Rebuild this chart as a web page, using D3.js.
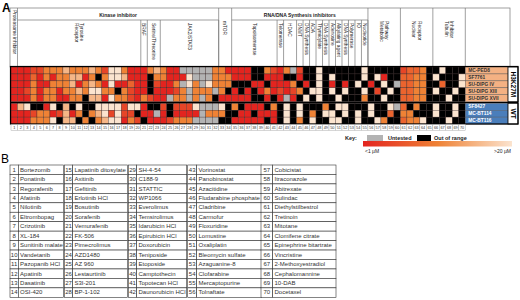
<!DOCTYPE html>
<html><head><meta charset="utf-8">
<script src="https://cdn.jsdelivr.net/npm/d3@7"></script>
<style>
body{margin:0;background:#fff;}
svg{display:block;font-family:"Liberation Sans",Arial,sans-serif;}
</style></head><body><div id="chart"></div>
<script>
const drugs = ["Bortezomib","Ponatinib","Regorafenib","Afatinib","Nilotinib","Eltrombopag","Crizotinib","XL-184","Sunitinib malate","Vandetanib","Pazopanib HCl","Apatinib","Dasatinib","OSI-420",
"Lapatinib ditosylate","Axitinib","Gefitinib","Erlotinib HCl","Bosutinib","Sorafenib","Vemurafenib","FK-506","Pimecrolimus","AZD1480","AZ 960","Lestaurtinib","S3I-201","BP-1-102",
"SH-4-54","C188-9","STATTIC","WP1066","Everolimus","Temsirolimus","Idarubicin HCl","Epirubicin HCl","Doxorubicin","Teniposide","Etoposide","Camptothecin","Topotecan HCl","Daunorubicin HCl",
"Vorinostat","Panobinostat","Azacitidine","Fludarabine phosphate","Cladribine","Carmofur","Floxuridine","Lomustine","Oxaliplatin","Bleomycin sulfate","Azaguanine-8","Clofarabine","Mercaptopurine","Tolnaftate",
"Cobicistat","Itraconazole","Abitrexate","Sulindac","Diethylstilbestrol","Tretinoin","Mitotane","Clomifene citrate","Epinephrine bitartrate","Vincristine","2-Methoxyestradiol","Cephalomannine","10-DAB","Docetaxel"];

const cellLines = ["MC-PED8","SF7761","SU-DIPG IV","SU-DIPG XIII","SU-DIPG XVII","SF8427","MC-BT114","MC-BT116"];
const groupNames = ["H3K27M","WT"];
const groupSizes = [5,3];

// one character per drug: 1 (<1 µM) .. 6 (>20 µM), g untested, k out of range
const levelUM = [null,1,1.7,2.8,4.5,10,20];
const response = [
"1112244454" + "4454266411" + "145411gggg" + "g441111kk4" + "214g2kk6kk" + "kkkk6kkkkk" + "2334kk6kkk",
"1113141445" + "514k466511" + "1k441116gg" + "g444111kk1" + "11kk1kk6k6" + "kkkk6k61kk" + "3344k6kkk6",
"1114114445" + "1454161131" + "1k2114g64g" + "6444kkk11k" + "1114k1k6k1" + "k1k6k1k6kg" + "3344kk3kk6",
"1124144144" + "546644k421" + "1k11124g44" + "4g4k1k1k14" + "12124k66k6" + "k6kk6k2k6k" + "3344k6kk6k",
"1114144114" + "4k55164421" + "4211g44g4g" + "4k11111kk1" + "k1g1k6k6kk" + "6kkk4kk6kk" + "3344kkk6kk",
"156kk16k5k" + "6kk6666266" + "1kk2k2226g" + "gg6k4k111k" + "4k6k6kkk4k" + "66kkk6kk6g" + "3k4kk6kk6k",
"1112441251" + "4k4562622k" + "11g1k1111g" + "444kk11k11" + "1k6k6k4k66" + "k6k6k6kk3k" + "44kkk6kk6k",
"1114446k55" + "k4k4566142" + "k1112444gg" + "ggkk11111k" + "1k6k4k6kk6" + "6kk6kk64kk" + "3446kkk6kk"
];

const topCats = ["Proteasome inhibitor","Kinase inhibitor","mTOR","RNA/DNA Synthesis inhibitors","Metabolic\nPathway","Nuclear\nReceptor","Tubulin\nInhibitor"];
const topStart = [1,2,33,35,56,61,66];
const topEnd   = [1,32,34,55,60,65,70];
const subCats  = ["Receptor\nTyrosine","BRAF","Serine/Threonine","JAK2/STAT3","Topoisomerase","Telomerase","HDAC","DNMT","DNA Synthesis","ADA","Thymidylate","DNA Synthesis","Adenosine","Alkylating agent","DNA Synthesis","Polymerase","IO","Nucleotide"];
const subStart = [2,21,22,24,35,42,43,45,46,47,48,49,50,51,52,53,54,55];
const subEnd   = [20,21,23,32,41,42,44,45,46,47,48,49,50,51,52,53,54,55];

const W = 520, H = 300;
const svg = d3.select("#chart").append("svg").attr("width",W).attr("height",H);

const x = d3.scaleBand().domain(d3.range(1,71)).range([11,465.3]);
const rowY = i => i < 5 ? 67 + i*6.94 : 103.3 + (i-5)*6.9;
const rowH = 6.94;

const color = d3.scaleLog().domain([1,4.5,20]).range(["#e3241f","#ef8235","#fbe4cf"]).clamp(true);
const fillOf = c => c === "g" ? "#b3b3b3" : c === "k" ? "#000" : color(levelUM[+c] || 8);

svg.append("text").attr("x",2).attr("y",12).attr("font-size",12).attr("font-weight","bold").text("A");
svg.append("text").attr("x",1).attr("y",163).attr("font-size",12).text("B");

// header
const hTop = 8, hMid = 20, hBot = 67;
const hdr = svg.append("g").attr("stroke","#777").attr("stroke-width",0.7).attr("fill","none");
hdr.append("rect").attr("x",10).attr("y",hTop).attr("width",500).attr("height",hBot-hTop);
topCats.forEach((name,i) => {
  const x0 = x(topStart[i]), x1 = x(topEnd[i]) + x.bandwidth();
  hdr.append("line").attr("x1",x1).attr("x2",x1).attr("y1",hTop).attr("y2",hBot);
  const hasSub = subStart.some(s => s >= topStart[i] && s <= topEnd[i]);
  if (hasSub) {
    hdr.append("line").attr("x1",x0).attr("x2",x1).attr("y1",hMid).attr("y2",hMid);
    svg.append("text").attr("x",(x0+x1)/2).attr("y",16.5).attr("text-anchor","middle")
      .attr("font-size",5).attr("font-weight","bold").attr("fill","#222").text(name);
  } else {
    vtext((x0+x1)/2, i === 0 ? 10 : 21, name);
  }
});
subCats.forEach((name,i) => {
  const x0 = x(subStart[i]), x1 = x(subEnd[i]) + x.bandwidth();
  hdr.append("line").attr("x1",x1).attr("x2",x1).attr("y1",hMid).attr("y2",hBot);
  vtext((x0+x1)/2, 23, name);
});
function vtext(cx, y0, name) {
  const lines = name.split("\n");
  const t = svg.append("text").attr("font-size",4.8).attr("fill","#222")
    .attr("transform",`translate(${cx},${y0}) rotate(90)`);
  lines.forEach((l,j) => t.append("tspan").attr("x",0)
    .attr("y",-((j - (lines.length-1)/2) * 5.5) + 1.7).text(l));
}

// cells
const cells = svg.append("g");
response.forEach((row,r) => {
  cells.selectAll(null).data(row.split("")).join("rect")
    .attr("x",(d,i) => x(i+1)).attr("y",rowY(r))
    .attr("width",x.bandwidth()).attr("height",rowH)
    .attr("fill",fillOf).attr("stroke","#3a2a2a").attr("stroke-width",0.35);
});
svg.append("line").attr("x1",10).attr("x2",518).attr("y1",102.5).attr("y2",102.5).attr("stroke","#000").attr("stroke-width",1.6);

// row labels
const labelX = 465.3, labelW = 42.7;
cellLines.forEach((name,r) => {
  const wt = r >= 5;
  svg.append("rect").attr("x",labelX).attr("y",rowY(r)).attr("width",labelW).attr("height",rowH)
    .attr("fill", wt ? "#4a7ebb" : "#f4b183").attr("stroke","#555").attr("stroke-width",0.4);
  svg.append("text").attr("x",labelX+3).attr("y",rowY(r)+rowH/2+1.7).attr("font-size",4.8)
    .attr("font-weight","bold").attr("fill", wt ? "#fff" : "#333").text(name);
});
let acc = 0;
groupNames.forEach((g,i) => {
  const y0 = rowY(acc), y1 = rowY(acc+groupSizes[i]-1) + rowH;
  svg.append("rect").attr("x",508).attr("y",y0).attr("width",10).attr("height",y1-y0)
    .attr("fill","#fff").attr("stroke","#000").attr("stroke-width",0.8);
  svg.append("text").attr("transform",`translate(511,${(y0+y1)/2}) rotate(90)`)
    .attr("text-anchor","middle").attr("font-size",6.5).attr("font-weight","bold").text(g);
  acc += groupSizes[i];
});
svg.append("rect").attr("x",10.5).attr("y",66.5).attr("width",507.5).attr("height",57.5)
  .attr("fill","none").attr("stroke","#000").attr("stroke-width",1.2);

// drug numbers
const nums = svg.append("g");
nums.selectAll("rect").data(drugs).join("rect")
  .attr("x",(d,i) => x(i+1)).attr("y",124.5).attr("width",x.bandwidth()).attr("height",6)
  .attr("fill","#fff").attr("stroke","#999").attr("stroke-width",0.4);
nums.selectAll("text").data(drugs).join("text")
  .attr("x",(d,i) => x(i+1)+x.bandwidth()/2).attr("y",129.3).attr("text-anchor","middle")
  .attr("font-size",3.8).attr("fill","#333").text((d,i) => i+1);

// key
const key = svg.append("g").attr("font-size",5.5).attr("fill","#222");
key.append("text").attr("x",345).attr("y",140).attr("font-weight","bold").text("Key:");
key.append("rect").attr("x",367).attr("y",135).attr("width",16).attr("height",6).attr("fill","#b3b3b3");
key.append("text").attr("x",388).attr("y",140).attr("font-weight","bold").text("Untested");
key.append("rect").attr("x",417).attr("y",135).attr("width",14).attr("height",6).attr("fill","#000");
key.append("text").attr("x",434).attr("y",140).attr("font-weight","bold").text("Out of range");
const grad = svg.append("defs").append("linearGradient").attr("id","g1");
d3.range(0,1.01,0.1).forEach(t => grad.append("stop").attr("offset",t)
  .attr("stop-color",color(Math.pow(20,t))));
svg.append("rect").attr("x",363).attr("y",141).attr("width",149).attr("height",5.5).attr("fill","url(#g1)");
key.append("text").attr("x",365).attr("y",153).attr("font-size",5).text("<1 µM");
key.append("text").attr("x",511).attr("y",153).attr("font-size",5).attr("text-anchor","end").text(">20 µM");

// table B
const tblX = [10,64.3,128.3,187.7,261];
const numW = [8.3,8.4,8.4,9,11.7];
const nameW = [45,54.6,50,65,63.3];
const tRowH = 9.45, tTop = 165;
const tbl = svg.append("g");
drugs.forEach((d,i) => {
  const c = Math.floor(i/14), r = i % 14;
  const y0 = tTop + r*tRowH, x0 = tblX[c];
  tbl.append("rect").attr("x",x0).attr("y",y0).attr("width",numW[c]).attr("height",tRowH)
    .attr("fill","#fff").attr("stroke","#333").attr("stroke-width",0.6);
  tbl.append("rect").attr("x",x0+numW[c]).attr("y",y0).attr("width",nameW[c]).attr("height",tRowH)
    .attr("fill","#fff").attr("stroke","#333").attr("stroke-width",0.6);
  tbl.append("text").attr("x",x0+numW[c]/2).attr("y",y0+6.6).attr("text-anchor","middle")
    .attr("font-size",6).attr("fill","#333").text(i+1);
  tbl.append("text").attr("x",x0+numW[c]+1.8).attr("y",y0+6.6)
    .attr("font-size",6).attr("fill","#333").text(d);
});
</script></body></html>
